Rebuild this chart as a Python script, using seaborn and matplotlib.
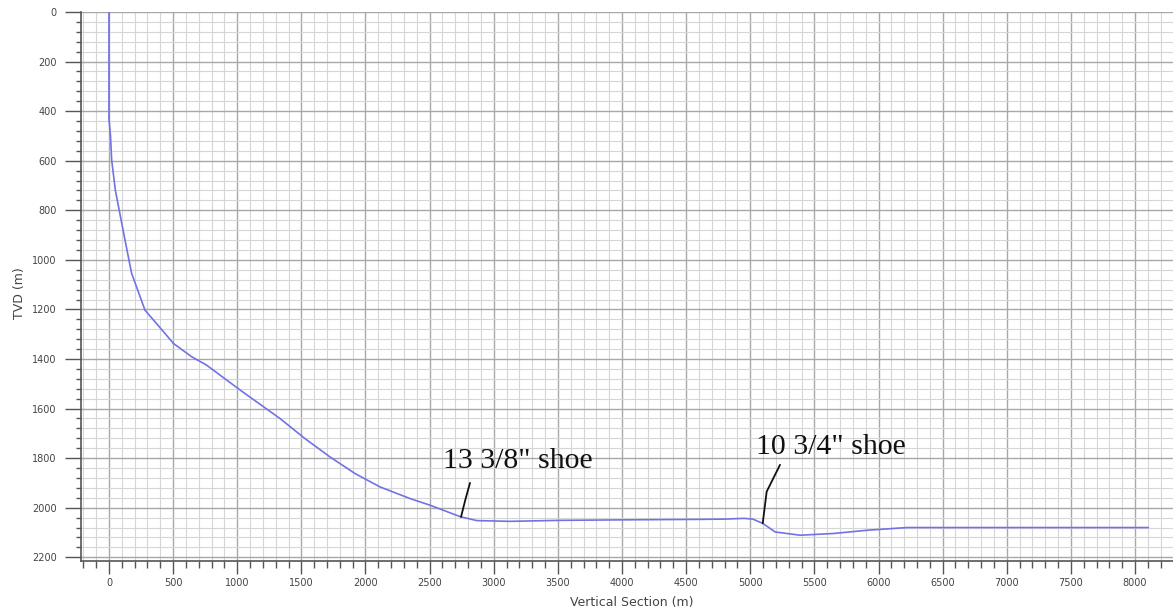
import numpy as np
import pandas as pd
import matplotlib
matplotlib.use("Agg")
import matplotlib.pyplot as plt
from matplotlib.ticker import MultipleLocator
import seaborn as sns

# Well trajectory: vertical section (m) vs TVD (m)
vs = [0, 0, 12, 21, 50, 125, 177, 281, 437, 502, 645, 762, 1022, 1333, 1528,
      1723, 1918, 2113, 2347, 2504, 2738, 2868, 3128, 3518, 4000, 4610, 4800,
      4950, 5020, 5097, 5195, 5390, 5650, 5910, 6222, 7000, 8104]
tvd = [0, 430, 500, 597, 720, 920, 1055, 1203, 1297, 1337, 1391, 1425, 1525,
       1640, 1721, 1795, 1862, 1916, 1963, 1990, 2036, 2052, 2055, 2051, 2049,
       2047, 2046, 2043, 2046, 2063, 2098, 2111, 2104, 2091, 2080, 2080, 2080]

# Casing shoe annotations
shoe_labels = ['13 3/8" shoe', '10 3/4" shoe']
leader_vs = [[2745, 2780, 2815], [5097, 5128, 5232]]
leader_tvd = [[2037, 1965, 1900], [2063, 1935, 1827]]
label_vs = [2604, 5045]
label_tvd = [1811, 1755]

df = pd.DataFrame({"Vertical Section (m)": vs, "TVD (m)": tvd})

sns.set_theme(style="white")
plt.rcParams['font.family'] = ['DejaVu Sans']

fig = plt.figure(figsize=(11.73, 6.12), dpi=100)
ax = fig.add_axes([81 / 1173, 51 / 612, 1092 / 1173, 549 / 612])

sns.lineplot(data=df, x="Vertical Section (m)", y="TVD (m)", sort=False,
             estimator=None, color="#7272e6", linewidth=1.2, ax=ax, zorder=3)

ax.set_xlim(-218, 8296)
ax.set_ylim(2215, 0)

ax.xaxis.set_major_locator(MultipleLocator(500))
ax.xaxis.set_minor_locator(MultipleLocator(100))
ax.yaxis.set_major_locator(MultipleLocator(200))
ax.yaxis.set_minor_locator(MultipleLocator(40))

ax.grid(which="major", color="#a8a8a8", linewidth=1.0)
ax.grid(which="minor", color="#d6d6d6", linewidth=0.8)
ax.set_axisbelow(True)

ax.tick_params(axis="x", which="major", direction="out", length=9.5, width=1,
               color="#555555", labelsize=7, labelcolor="#444444", pad=3,
               bottom=True)
ax.tick_params(axis="x", which="minor", direction="out", length=5, width=1,
               color="#555555", bottom=True)
ax.tick_params(axis="y", which="major", direction="out", length=11.5, width=1,
               color="#555555", labelsize=7, labelcolor="#444444", pad=6,
               left=True)
ax.tick_params(axis="y", which="minor", direction="out", length=3.6, width=1,
               color="#555555", left=True)

for side in ["top", "right"]:
    ax.spines[side].set_visible(False)
for side in ["left", "bottom"]:
    ax.spines[side].set_color("#555555")
    ax.spines[side].set_linewidth(1.2)

ax.set_xlabel("Vertical Section (m)", fontsize=9, color="#444444")
ax.set_ylabel("TVD (m)", fontsize=9, color="#444444")
ax.xaxis.set_label_coords(0.5046, -0.0645)
ax.yaxis.set_label_coords(-0.0504, 0.488)

for i, lab in enumerate(shoe_labels):
    ax.plot(leader_vs[i], leader_tvd[i], color="#111111", linewidth=1.3, zorder=4)
    ax.text(label_vs[i], label_tvd[i], lab, fontsize=21.5, color="#111111",
            family=["Liberation Serif"], va="center", ha="left", zorder=5)

fig.savefig("out.png", dpi=100)
